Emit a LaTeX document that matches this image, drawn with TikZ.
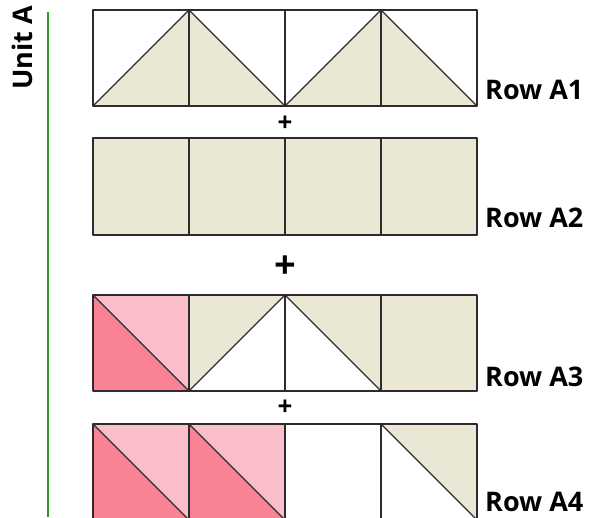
\documentclass[tikz,border=0pt]{standalone}
\usepackage{fontspec}
\setmainfont{Open Sans}
\definecolor{tan}{HTML}{EAE8D5}
\definecolor{lpink}{HTML}{FBBFCB}
\definecolor{dpink}{HTML}{F98395}
\definecolor{edge}{HTML}{2F2B2C}
\definecolor{ugreen}{HTML}{2E9A2E}
\begin{document}
\begin{tikzpicture}[x=1pt,y=-1pt,
  seam/.style={draw=edge,line width=1.4pt,line join=round},
  lbl/.style={font=\fontsize{27}{27}\selectfont\bfseries,inner sep=0pt,anchor=base west},
  plus/.style={font=\fontsize{26}{26}\selectfont\bfseries,inner sep=0pt}]
\useasboundingbox (0,0) rectangle (592,517);
\clip (0,0) rectangle (592,517);
% Row A1 (y 10..106)
\fill[tan] (93,106) -- (189,10) -- (285,106) -- cycle;
\fill[tan] (285,106) -- (381,10) -- (477,106) -- cycle;
\draw[seam] (93,10) rectangle (477,106);
\draw[seam] (189,10) -- (189,106) (285,10) -- (285,106) (381,10) -- (381,106);
\draw[seam] (93,106) -- (189,10) -- (285,106) -- (381,10) -- (477,106);
% Row A2 (y 138..235)
\fill[tan] (93,138) rectangle (477,235);
\draw[seam] (93,138) rectangle (477,235);
\draw[seam] (189,138) -- (189,235) (285,138) -- (285,235) (381,138) -- (381,235);
% Row A3 (y 295..391)
\fill[lpink] (93,295) rectangle (189,391);
\fill[dpink] (93,295) -- (189,391) -- (93,391) -- cycle;
\fill[tan] (189,295) -- (285,295) -- (189,391) -- cycle;
\fill[tan] (285,295) -- (381,295) -- (381,391) -- cycle;
\fill[tan] (381,295) rectangle (477,391);
\draw[seam] (93,295) rectangle (477,391);
\draw[seam] (189,295) -- (189,391) (285,295) -- (285,391) (381,295) -- (381,391);
\draw[seam] (93,295) -- (189,391) -- (285,295) -- (381,391);
% Row A4 (y 424..520)
\fill[lpink] (93,424) rectangle (285,520);
\fill[dpink] (93,424) -- (189,520) -- (93,520) -- cycle;
\fill[dpink] (189,424) -- (285,520) -- (189,520) -- cycle;
\fill[tan] (381,424) -- (477,424) -- (477,520) -- cycle;
\draw[seam] (93,424) rectangle (477,520);
\draw[seam] (189,424) -- (189,520) (285,424) -- (285,520) (381,424) -- (381,520);
\draw[seam] (93,424) -- (189,520) (189,424) -- (285,520) (381,424) -- (477,520);
% plus signs
\node[plus] (p1) at (285,124) {+};
\node[plus,font=\fontsize{38}{38}\selectfont\bfseries] (p2) at (285,267) {+};
\node[plus] (p3) at (285,408) {+};
% row labels
\node[lbl] (r1) at (485,99) {Row A1};
\node[lbl] (r2) at (485,227) {Row A2};
\node[lbl] (r3) at (485,386) {Row A3};
\node[lbl] (r4) at (485,511) {Row A4};
% unit label and green line
\coordinate (gt) at (48,12);
\coordinate (gb) at (48,517);
\draw[ugreen,line width=1.4pt] (gt) -- (gb);
\node[lbl,rotate=90,anchor=base] (unit) at (32,48) {Unit A};
\end{tikzpicture}
\end{document}
